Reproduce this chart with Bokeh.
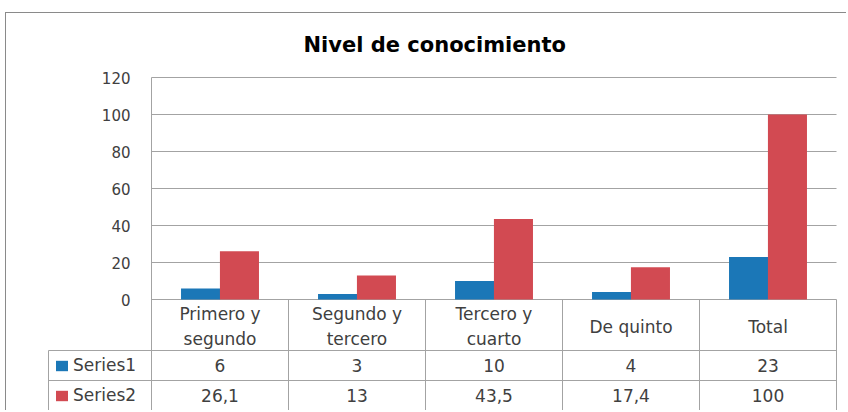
from bokeh.plotting import figure
from bokeh.models import Range1d, FixedTicker, ColumnDataSource, Legend, LegendItem
from bokeh.core.properties import value
from bokeh.embed import file_html
from bokeh.resources import INLINE

# ---- data ----
categories = ["Primero y\nsegundo", "Segundo y\ntercero", "Tercero y\ncuarto", "De quinto", "Total"]
series_names = ["Series1", "Series2"]
series1 = [6, 3, 10, 4, 23]
series2 = [26.1, 13, 43.5, 17.4, 100]
y_ticks = [0, 20, 40, 60, 80, 100, 120]
colors = ["#1b77b7", "#d24a52"]
title_text = "Nivel de conocimiento"

# ---- layout constants (pixels) ----
n = len(categories)
CAT_PX = 137                 # pixels per category
PPU = 1.85                   # pixels per value unit
LEG_PX = 103                 # width of the table's legend column
HDR_PX, ROW_PX = 51, 30      # table row heights
GRID = "#a3a3a3"
TXT = "#404040"
FONT = "DejaVu Sans"

e = 1 / CAT_PX
xl = -LEG_PX / CAT_PX
y_hdr = -HDR_PX / PPU
y_r1 = -(HDR_PX + ROW_PX) / PPU
y_r2 = -(HDR_PX + 2 * ROW_PX) / PPU
y_bot = y_r2 - 1 / PPU

p = figure(width=841, height=398, output_backend="svg", toolbar_location=None,
           x_range=Range1d(xl - e, n + e), y_range=Range1d(y_bot, 120 + 1 / PPU),
           min_border_left=41, min_border_right=10, min_border_top=63, min_border_bottom=0)
p.outline_line_color = None
p.xaxis.visible = False
p.xgrid.visible = False

yax = p.yaxis[0]
yax.ticker = FixedTicker(ticks=y_ticks)
yax.axis_line_color = None
yax.major_tick_line_color = None
yax.minor_tick_line_color = None
yax.major_tick_out = 0
yax.major_tick_in = 0
yax.major_label_text_font = FONT
yax.major_label_text_font_size = "15px"
yax.major_label_text_color = TXT
yax.major_label_standoff = -83

p.ygrid.ticker = FixedTicker(ticks=y_ticks)
p.ygrid.grid_line_color = GRID
p.ygrid.grid_line_width = 1
p.ygrid.cross_bounds = (0, n)

# bars
xs = [i + 0.5 for i in range(n)]
off = 0.142
bw = 0.285
src = ColumnDataSource(dict(x1=[x - off for x in xs], x2=[x + off for x in xs],
                            s1=series1, s2=series2))
r1 = p.vbar(x="x1", top="s1", bottom=0, width=bw, source=src, fill_color=colors[0], line_color=None)
r2 = p.vbar(x="x2", top="s2", bottom=0, width=bw, source=src, fill_color=colors[1], line_color=None)

# plot-area left edge and data-table grid
p.segment(x0=0, y0=y_ticks[-1], x1=0, y1=y_r2, line_color=GRID, line_width=1)
for i in range(1, n + 1):
    p.segment(x0=i, y0=0, x1=i, y1=y_r2, line_color=GRID, line_width=1)
for yv in [y_hdr, y_r1, y_r2]:
    p.segment(x0=xl, y0=yv, x1=n, y1=yv, line_color=GRID, line_width=1)
p.segment(x0=xl, y0=y_hdr, x1=xl, y1=y_r2, line_color=GRID, line_width=1)

# table texts
fmt = lambda v: str(v).replace(".", ",")
tsrc = ColumnDataSource(dict(x=xs, cat=categories,
                             v1=[fmt(v) for v in series1], v2=[fmt(v) for v in series2]))
p.text(x="x", y=-27 / PPU, text="cat", source=tsrc, text_align="center",
       text_baseline="middle", text_font=value(FONT), text_font_size="17px",
       text_color=TXT, text_line_height=1.25)
p.text(x="x", y=(y_hdr + y_r1) / 2, text="v1", source=tsrc, text_align="center",
       text_baseline="middle", text_font=value(FONT), text_font_size="17px", text_color=TXT)
p.text(x="x", y=(y_r1 + y_r2) / 2, text="v2", source=tsrc, text_align="center",
       text_baseline="middle", text_font=value(FONT), text_font_size="17px", text_color=TXT)

legend = Legend(items=[LegendItem(label=series_names[0], renderers=[r1]),
                       LegendItem(label=series_names[1], renderers=[r2])],
                location=(7, 1), orientation="vertical")
legend.border_line_color = None
legend.background_fill_alpha = 0
legend.padding = 0
legend.margin = 0
legend.spacing = 0
legend.label_height = ROW_PX
legend.glyph_height = 13
legend.glyph_width = 15
legend.label_standoff = 4
legend.label_text_font = FONT
legend.label_text_font_size = "17px"
legend.label_text_color = TXT
p.add_layout(legend)

p.title.text = title_text
p.title.align = "left"
p.title.offset = 256
p.title.vertical_align = "top"
p.title.text_font = FONT
p.title.text_font_size = "21px"
p.title.text_font_style = "bold"
p.title.text_color = "#000000"
p.title.standoff = 36

p.styles = {"border-top": "1px solid #8a8a8a", "border-left": "1px solid #8a8a8a",
            "margin-left": "5px", "margin-top": "12px"}

open("out.html", "w").write(file_html(p, INLINE))
